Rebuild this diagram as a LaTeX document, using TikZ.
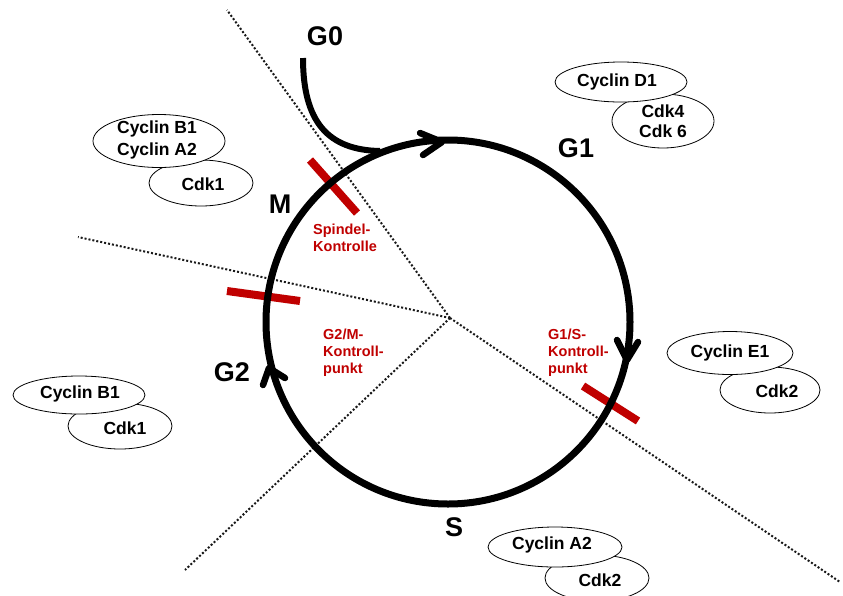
\documentclass[tikz,border=0pt]{standalone}
\usepackage{fontspec}
\setmainfont{Liberation Sans}
\usetikzlibrary{shapes.geometric}
\definecolor{cpred}{RGB}{192,0,0}
\begin{document}
\begin{tikzpicture}[x=1pt,y=-1pt,
  dotln/.style={line width=2pt, dash pattern=on 2pt off 2pt, black!90},
  cyc/.style={line width=7pt, black},
  chev/.style={line width=6.5pt, line cap=round, line join=round},
  chk/.style={line width=8pt, cpred},
  ell/.style={ellipse, draw, line width=0.8pt, fill=white, inner sep=0pt},
  etxt/.style={font=\fontsize{17.5}{21.5}\selectfont\bfseries, align=center, inner sep=0pt},
  phase/.style={font=\fontsize{27}{30}\selectfont\bfseries, inner sep=0pt},
  rtxt/.style={font=\fontsize{14.5}{17}\selectfont\bfseries, text=cpred, align=left, inner sep=0pt, anchor=north west}]
\useasboundingbox[fill=white] (0,0) rectangle (843,595);
% dotted rays
\coordinate (c) at (450,318);
\coordinate (r1) at (227,10);
\coordinate (r2) at (78,237);
\coordinate (r3) at (185,570);
\coordinate (r4) at (840,582);
\draw[dotln] (c) -- (r1);
\draw[dotln] (c) -- (r2);
\draw[dotln] (c) -- (r3);
\draw[dotln] (c) -- (r4);
% checkpoints
\draw[chk] (310,160) -- (357,213);
\draw[chk] (227,291) -- (300,301);
\draw[chk] (583,386) -- (638,421);
% cycle
\draw[cyc] (448,322) circle[radius=182];
\draw[line width=6pt] (303,58) .. controls (303,122) and (328,150) .. (380,151);
\draw[chev] (420,133) -- (442,142) -- (423,155);
\draw[chev] (617,340) -- (627,360) -- (638,342);
\draw[chev] (263,385) -- (269,368) -- (285,378);
% phase labels
\node[phase] (g0) at (325,36) {G0};
\node[phase] (g1) at (576,148) {G1};
\node[phase] (m) at (280,204) {M};
\node[phase] (g2) at (232,372) {G2};
\node[phase] (s) at (454,527) {S};
% checkpoint labels
\node[rtxt] (spk) at (313,224) {Spindel-\\Kontrolle};
\node[rtxt] (g2mk) at (323,329) {G2/M-\\Kontroll-\\punkt};
\node[rtxt] (g1sk) at (548,329) {G1/S-\\Kontroll-\\punkt};
% complexes
\node[ell, minimum width=104pt, minimum height=46pt] (k1) at (201,183) {};
\node[ell, minimum width=132pt, minimum height=53pt] (c1) at (159,141) {};
\node[etxt] (t1) at (157,140) {Cyclin B1\\Cyclin A2};
\node[etxt] (t1k) at (203,184) {Cdk1};

\node[ell, minimum width=102pt, minimum height=54pt] (k2) at (663,121) {};
\node[ell, minimum width=132pt, minimum height=40pt] (c2) at (621,82) {};
\node[etxt] (t2) at (617,82) {Cyclin D1};
\node[etxt, font=\fontsize{17.5}{19.5}\selectfont\bfseries] (t2k) at (663,121) {Cdk4\\Cdk 6};

\node[ell, minimum width=100pt, minimum height=46pt] (k3) at (770,390) {};
\node[ell, minimum width=126pt, minimum height=43pt] (c3) at (730,353) {};
\node[etxt] (t3) at (730,353) {Cyclin E1};
\node[etxt] (t3k) at (777,391) {Cdk2};

\node[ell, minimum width=104pt, minimum height=46pt] (k4) at (120,426) {};
\node[ell, minimum width=132pt, minimum height=38pt] (c4) at (79,395) {};
\node[etxt] (t4) at (80,394) {Cyclin B1};
\node[etxt] (t4k) at (125,428) {Cdk1};

\node[ell, minimum width=104pt, minimum height=46pt] (k5) at (597,578) {};
\node[ell, minimum width=134pt, minimum height=40pt] (c5) at (555,547) {};
\node[etxt] (t5) at (552,545) {Cyclin A2};
\node[etxt] (t5k) at (600,580) {Cdk2};
\end{tikzpicture}
\end{document}
